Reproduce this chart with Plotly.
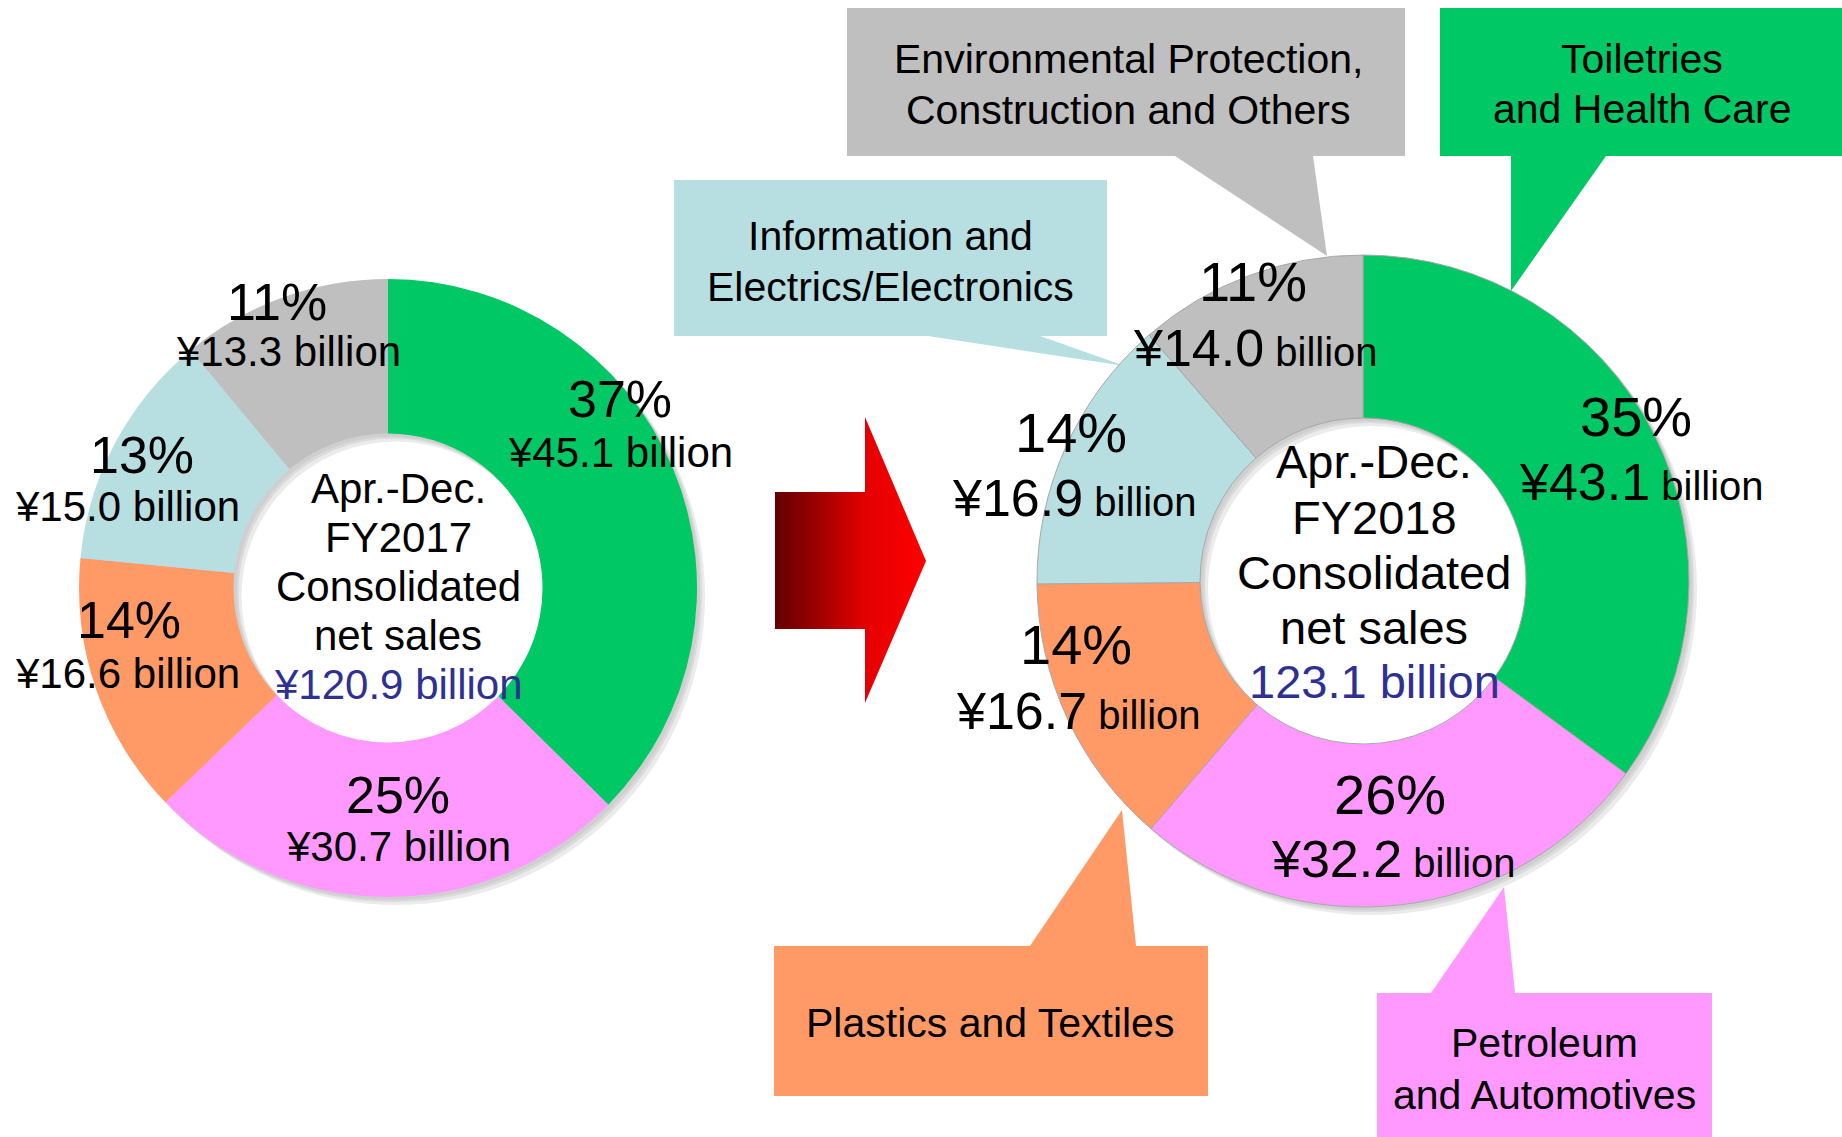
import plotly.graph_objects as go

W, H = 1842, 1137

# ---------------- data ----------------
segments = ["Toiletries and Health Care", "Petroleum and Automotives",
            "Plastics and Textiles", "Information and Electrics/Electronics",
            "Environmental Protection, Construction and Others"]
values_2017 = [45.1, 30.7, 16.6, 15.0, 13.3]
values_2018 = [43.1, 32.2, 16.7, 16.9, 14.0]
pct_2017 = ["37%", "25%", "14%", "13%", "11%"]
pct_2018 = ["35%", "26%", "14%", "14%", "11%"]
total_2017 = "¥120.9 billion"
total_2018 = "123.1 billion"
period_2017 = ["Apr.-Dec.", "FY2017", "Consolidated", "net sales"]
period_2018 = ["Apr.-Dec.", "FY2018", "Consolidated", "net sales"]
callout_lines = [["Toiletries", "and Health Care"],
                 ["Petroleum", "and Automotives"],
                 ["Plastics and Textiles"],
                 ["Information and", "Electrics/Electronics"],
                 ["Environmental Protection,", "Construction and Others"]]

colors = ["#00C864", "#FF99FF", "#FF9966", "#B7DEE1", "#BFBFBF"]
FONT = "Liberation Sans, Arial, sans-serif"
BLUE = "#2E3192"


def px(x):
    return x / W


def py(y):
    return 1 - y / H


def dom(cx, cy, r, dx=0, dy=0):
    return dict(x=[px(cx - r + dx), px(cx + r + dx)],
                y=[py(cy + r + dy), py(cy - r + dy)])


fig = go.Figure()

# hidden pixel axes for the arrow
fig.update_xaxes(range=[0, W], visible=False, fixedrange=True)
fig.update_yaxes(range=[H, 0], visible=False, fixedrange=True)

# gradient arrow
arrow_x = [775, 865, 865, 926, 865, 865, 775, 775]
arrow_y = [492, 492, 417, 561, 703, 629, 629, 492]
fig.add_trace(go.Scatter(
    x=arrow_x, y=arrow_y, mode="lines", fill="toself", line=dict(width=0),
    fillgradient=dict(type="horizontal",
                      colorscale=[[0, "#640000"], [0.15, "#800000"],
                                  [0.6, "#E40000"], [1, "#FF0000"]]),
    hoverinfo="skip", showlegend=False))

donuts = [
    dict(cx=388, cy=588, r=309, hole=0.5, values=values_2017, line=0),
    dict(cx=1363, cy=581, r=326, hole=0.5, values=values_2018, line=1),
]

# soft shadows
for d in donuts:
    for off, col in [(8, "#EBEBEB"), (5, "#DADADA"), (3, "#CFCFCF")]:
        fig.add_trace(go.Pie(
            values=[1], marker=dict(colors=[col]), hole=d["hole"],
            domain=dom(d["cx"], d["cy"], d["r"], off, off),
            textinfo="none", hoverinfo="skip", showlegend=False, sort=False))

for d in donuts:
    fig.add_trace(go.Pie(
        labels=segments, values=d["values"], hole=d["hole"],
        marker=dict(colors=colors,
                    line=dict(color="#A8A8A8" if d["line"] else "rgba(0,0,0,0)",
                              width=d["line"])),
        sort=False, direction="clockwise", rotation=0,
        domain=dom(d["cx"], d["cy"], d["r"]),
        textinfo="none", hoverinfo="label+value", showlegend=False))

ann = []


def txt(x, y, t, size, color="black"):
    ann.append(dict(x=px(x), y=py(y), xref="paper", yref="paper", text=t,
                    showarrow=False, xanchor="center", yanchor="middle",
                    font=dict(family=FONT, size=size, color=color)))


# left donut labels (slice order)
pos_l = [((620, 399), (620, 452)), ((398, 795), (398, 846)),
         ((129, 620), (127, 673)), ((142, 455), (127, 507)),
         ((277, 302), (288, 352))]
for (p1, p2), pc, v in zip(pos_l, pct_2017, values_2017):
    txt(p1[0], p1[1], pc, 52)
    txt(p2[0], p2[1], f"¥{v:.1f} billion", 42)

for i, line in enumerate(period_2017):
    txt(398, 488 + i * 49, line, 42)
txt(398, 684, total_2017, 42, BLUE)

# right donut labels
pos_r = [((1636, 417), (1641, 482)), ((1390, 794), (1393, 859)),
         ((1076, 644), (1078, 711)), ((1071, 432), (1074, 498)),
         ((1253, 282), (1255, 348))]
for (p1, p2), pc, v in zip(pos_r, pct_2018, values_2018):
    txt(p1[0], p1[1], pc, 56)
    txt(p2[0], p2[1],
        f"<span style='font-size:52px'>¥{v:.1f}</span> billion", 40)

for i, line in enumerate(period_2018):
    txt(1374, 462 + i * 55, line, 47)
txt(1374, 681, total_2018, 47, BLUE)

# callout boxes (box + pointer) in pixels
callouts = [
    dict(box=(1440, 8, 1842, 156), ptr=[(1511, 156), (1511, 291), (1606, 156)],
         text_y=[59, 109], text_x=1642),
    dict(box=(1377, 993, 1712, 1137), ptr=[(1431, 993), (1504, 887), (1515, 993)],
         text_y=[1043, 1095], text_x=1544),
    dict(box=(774, 946, 1208, 1096), ptr=[(1030, 946), (1122, 810), (1136, 946)],
         text_y=[1023], text_x=990),
    dict(box=(674, 180, 1107, 336), ptr=[(928, 336), (1125, 366), (1040, 336)],
         text_y=[236, 287], text_x=890),
    dict(box=(847, 8, 1405, 156), ptr=[(1175, 156), (1327, 256), (1313, 156)],
         text_y=[59, 110], text_x=1128),
]

shapes = []
for c, col, lines in zip(callouts, colors, callout_lines):
    x0, y0, x1, y1 = c["box"]
    shapes.append(dict(type="rect", xref="paper", yref="paper",
                       x0=px(x0), x1=px(x1), y0=py(y1), y1=py(y0),
                       fillcolor=col, line=dict(width=0), layer="below"))
    pts = c["ptr"]
    path = "M " + " L ".join(f"{px(a):.5f},{py(b):.5f}" for a, b in pts) + " Z"
    shapes.append(dict(type="path", xref="paper", yref="paper", path=path,
                       fillcolor=col, line=dict(width=0), layer="below"))
    for ty, line in zip(c["text_y"], lines):
        txt(c["text_x"], ty, line, 41)

fig.update_layout(
    width=W, height=H, margin=dict(l=0, r=0, t=0, b=0),
    paper_bgcolor="white", plot_bgcolor="rgba(0,0,0,0)",
    annotations=ann, shapes=shapes, showlegend=False,
)

fig.write_html("out.html",
               config={"displayModeBar": False},
               post_script="document.body.style.margin='0';"
                           "document.body.style.padding='0';")
